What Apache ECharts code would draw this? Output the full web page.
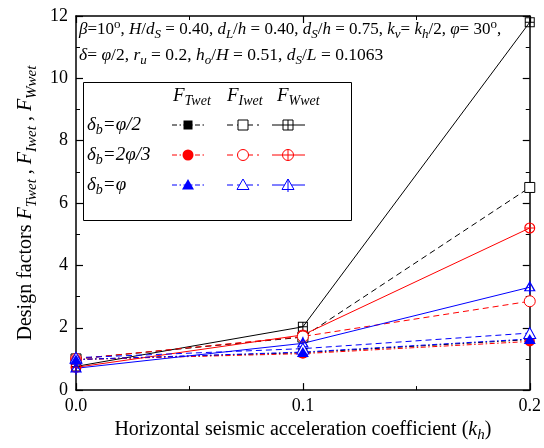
<!DOCTYPE html>
<html>
<head>
<meta charset="utf-8">
<script src="https://cdn.jsdelivr.net/npm/echarts@6/dist/echarts.min.js"></script>
<style>
  html, body { margin: 0; padding: 0; background: #fff; }
  #chart { width: 544px; height: 448px; }
</style>
</head>
<body>
<div id="chart"></div>
<script>
// horizontal seismic coefficient k_h
const kh = [0, 0.1, 0.2];

// F_Twet (dash-dot, filled markers)
const fTwetHalf = [0.98, 1.2, 1.62];
const fTwetTwoThird = [0.98, 1.17, 1.56];
const fTwetPhi = [0.98, 1.22, 1.64];

// F_Iwet (dashed, open markers)
const fIwetHalf = [1.0, 1.7, 6.5];
const fIwetTwoThird = [1.0, 1.72, 2.85];
const fIwetPhi = [1.04, 1.33, 1.83];

// F_Wwet (solid, crossed markers)
const fWwetHalf = [0.76, 2.03, 11.8];
const fWwetTwoThird = [0.73, 1.77, 5.2];
const fWwetPhi = [0.7, 1.5, 3.3];

const xTicks = [0, 0.1, 0.2];
const yTicks = [0, 2, 4, 6, 8, 10, 12];

const serif = '"Liberation Serif", "Times New Roman", serif';
const RED = '#ff0000';
const BLUE = '#0000ff';
const BLACK = '#000000';

const DASH_DOT = [5, 2.5, 1.5, 2.5];
const DASHED = [6, 4];

// rich text styles with sub / superscripts
function richSet(size) {
  const lh = size + 6;
  const base = { fontFamily: serif, fontSize: size, color: '#000', fill: '#000', lineHeight: lh, verticalAlign: 'middle' };
  return {
    n: base,
    i: Object.assign({}, base, { fontStyle: 'italic' }),
    sub: Object.assign({}, base, { fontStyle: 'italic', fontSize: Math.round(size * 0.75), lineHeight: lh - 10, verticalAlign: 'bottom' }),
    sup: Object.assign({}, base, { fontSize: Math.round(size * 0.75), lineHeight: lh - 12, verticalAlign: 'top' })
  };
}

// symbol outlines (filled white, stroked in colour) and crossed variants
const openRect = 'path://M0,0H10V10H0Z';
const openCircle = 'path://M0,5A5,5,0,1,1,10,5A5,5,0,1,1,0,5Z';
const openTri = 'path://M5,0L10,9H0Z';
const crossRect = 'path://M0,0H10V10H0Z M1,1V9H9V1Z M4.5,1H5.5V9H4.5Z M1,4.5H9V5.5H1Z';
const crossCircle = 'path://M0,5A5,5,0,1,1,10,5A5,5,0,1,1,0,5Z M1,5A4,4,0,1,0,9,5A4,4,0,1,0,1,5Z M4.5,1H5.5V9H4.5Z M1,4.5H9V5.5H1Z';
const crossTri = 'path://M5,0L10,9H0Z M5,2.2L1.8,8H8.2Z M4.5,0H5.5V11H4.5Z';

const groups = [
  { color: BLACK, t: fTwetHalf, i: fIwetHalf, w: fWwetHalf, filled: 'rect', empty: openRect, cross: crossRect, fs: 9, es: 10, cs: [10, 10] },
  { color: RED, t: fTwetTwoThird, i: fIwetTwoThird, w: fWwetTwoThird, filled: 'circle', empty: openCircle, cross: crossCircle, fs: 10, es: 11, cs: [11, 11] },
  { color: BLUE, t: fTwetPhi, i: fIwetPhi, w: fWwetPhi, filled: 'triangle', empty: openTri, cross: crossTri, fs: [12, 10], es: [12, 11], cs: [12, 13] }
];

const pairs = (ys) => kh.map((x, k) => [x, ys[k]]);

const series = [];
groups.forEach((g) => {
  series.push({
    type: 'line', data: pairs(g.w), symbol: g.cross, symbolSize: g.cs,
    lineStyle: { color: g.color, width: 1, type: 'solid' },
    itemStyle: { color: g.color, borderWidth: 0 }
  });
  series.push({
    type: 'line', data: pairs(g.i), symbol: g.empty, symbolSize: g.es,
    lineStyle: { color: g.color, width: 1, type: DASHED },
    itemStyle: { color: '#fff', borderColor: g.color, borderWidth: 1 }
  });
  series.push({
    type: 'line', data: pairs(g.t), symbol: g.filled, symbolSize: g.fs,
    lineStyle: { color: g.color, width: 1, type: DASH_DOT },
    itemStyle: { color: g.color, borderWidth: 0 }
  });
});

// legend drawn by hand: three columns of samples
const legendRowsY = [125, 155, 185];
const legendCols = [
  { x0: 172, x1: 204, cx: 188, dash: DASH_DOT, kind: 'filled', head: 'Twet', hx: 173 },
  { x0: 227, x1: 259, cx: 243, dash: DASHED, kind: 'empty', head: 'Iwet', hx: 227 },
  { x0: 272, x1: 305, cx: 288, dash: null, kind: 'cross', head: 'Wwet', hx: 277 }
];
const legendShapes = ['rect', 'circle', 'triangle'];
const legendColors = [BLACK, RED, BLUE];
const legendLabels = [
  '{i|δ}{sub|b}{i|=φ/2}',
  '{i|δ}{sub|b}{i|=2φ/3}',
  '{i|δ}{sub|b}{i|=φ}'
];

function marker(shape, kind, color, cx, cy) {
  const fill = kind === 'filled' ? color : '#fff';
  const st = { fill: fill, stroke: color, lineWidth: kind === 'filled' ? 0 : 1 };
  const out = [];
  if (shape === 'rect') {
    const r = kind === 'filled' ? 4.5 : 5;
    out.push({ type: 'rect', shape: { x: cx - r, y: cy - r, width: 2 * r, height: 2 * r }, style: st, z: 20 });
    if (kind === 'cross') {
      out.push({ type: 'line', shape: { x1: cx, y1: cy - r, x2: cx, y2: cy + r }, style: { stroke: color, lineWidth: 1 }, z: 21 });
      out.push({ type: 'line', shape: { x1: cx - r, y1: cy, x2: cx + r, y2: cy }, style: { stroke: color, lineWidth: 1 }, z: 21 });
    }
  } else if (shape === 'circle') {
    out.push({ type: 'circle', shape: { cx: cx, cy: cy, r: 5.5 }, style: st, z: 20 });
    if (kind === 'cross') {
      out.push({ type: 'line', shape: { x1: cx, y1: cy - 5.5, x2: cx, y2: cy + 5.5 }, style: { stroke: color, lineWidth: 1 }, z: 21 });
      out.push({ type: 'line', shape: { x1: cx - 5.5, y1: cy, x2: cx + 5.5, y2: cy }, style: { stroke: color, lineWidth: 1 }, z: 21 });
    }
  } else {
    out.push({ type: 'polygon', shape: { points: [[cx, cy - 6], [cx + 6, cy + 4.5], [cx - 6, cy + 4.5]] }, style: st, z: 20 });
    if (kind === 'cross') {
      out.push({ type: 'line', shape: { x1: cx, y1: cy - 6, x2: cx, y2: cy + 7 }, style: { stroke: color, lineWidth: 1 }, z: 21 });
    }
  }
  return out;
}

const graphics = [];
graphics.push({ type: 'rect', shape: { x: 83.5, y: 82.5, width: 268, height: 138 }, style: { fill: '#fff', stroke: '#000', lineWidth: 1 }, z: 10 });
legendCols.forEach((c) => {
  graphics.push({
    type: 'text', x: c.hx, y: 96, z: 11,
    style: { text: '{i|F}{sub|' + c.head + '}', rich: richSet(19), verticalAlign: 'middle' }
  });
});
legendLabels.forEach((lab, r) => {
  graphics.push({
    type: 'text', x: 87, y: legendRowsY[r], z: 11,
    style: { text: lab, rich: richSet(19), verticalAlign: 'middle' }
  });
  legendCols.forEach((c) => {
    const ls = { stroke: legendColors[r], lineWidth: 1 };
    if (c.dash) ls.lineDash = c.dash;
    graphics.push({ type: 'line', shape: { x1: c.x0, y1: legendRowsY[r], x2: c.x1, y2: legendRowsY[r] }, style: ls, z: 12 });
    marker(legendShapes[r], c.kind, legendColors[r], c.cx, legendRowsY[r]).forEach((m) => graphics.push(m));
  });
});

// parameter text at top of the plot
graphics.push({
  type: 'text', x: 79, y: 30, z: 11,
  style: {
    text: '{i|β}{n|=10}{sup|o}{n|, }{i|H}{n|/}{i|d}{sub|S}{n| = 0.40, }{i|d}{sub|L}{n|/}{i|h}{n| = 0.40, }{i|d}{sub|S}{n|/}{i|h}{n| = 0.75, }{i|k}{sub|v}{n|= }{i|k}{sub|h}{n|/2, }{i|φ}{n|= 30}{sup|o}{n|,}',
    rich: richSet(17), verticalAlign: 'middle'
  }
});
graphics.push({
  type: 'text', x: 79, y: 55, z: 11,
  style: {
    text: '{i|δ}{n|= }{i|φ}{n|/2, }{i|r}{sub|u}{n| = 0.2, }{i|h}{sub|o}{n|/}{i|H}{n| = 0.51, }{i|d}{sub|S}{n|/}{i|L}{n| = 0.1063}',
    rich: richSet(17.5), verticalAlign: 'middle'
  }
});

const axisLine = { show: true, onZero: false, lineStyle: { color: '#000', width: 1.5 } };
const tickIn = { show: true, inside: true, length: 7, lineStyle: { color: '#000', width: 1.2 } };
const minorIn = { show: true, splitNumber: 2, length: 4, lineStyle: { color: '#000', width: 1 } };

const chart = echarts.init(document.getElementById('chart'));
chart.setOption({
  animation: false,
  backgroundColor: '#fff',
  grid: { left: 76, right: 14, top: 16, bottom: 52 },
  xAxis: [
    {
      type: 'value', min: xTicks[0], max: xTicks[xTicks.length - 1], interval: 0.1,
      axisLine: axisLine, axisTick: tickIn, minorTick: minorIn, splitLine: { show: false },
      axisLabel: { fontFamily: serif, fontSize: 18, color: '#000', margin: 7, formatter: (v) => v.toFixed(1) },
      name: '{n|Horizontal seismic acceleration coefficient (}{i|k}{sub|h}{n|)}',
      nameLocation: 'middle', nameGap: 22,
      nameTextStyle: { rich: richSet(20) }
    },
    {
      type: 'value', position: 'top', min: 0, max: 0.2, interval: 0.1,
      axisLine: axisLine, axisTick: tickIn, minorTick: minorIn, splitLine: { show: false },
      axisLabel: { show: false }
    }
  ],
  yAxis: [
    {
      type: 'value', min: yTicks[0], max: yTicks[yTicks.length - 1], interval: 2,
      axisLine: axisLine, axisTick: tickIn, minorTick: minorIn, splitLine: { show: false },
      axisLabel: { fontFamily: serif, fontSize: 18, color: '#000', margin: 8 },
      name: '{n|Design factors }{i|F}{sub|Twet}{n| , }{i|F}{sub|Iwet}{n| , }{i|F}{sub|Wwet}',
      nameLocation: 'middle', nameGap: 32,
      nameTextStyle: { rich: richSet(20) }
    },
    {
      type: 'value', position: 'right', min: 0, max: 12, interval: 2,
      axisLine: axisLine, axisTick: tickIn, minorTick: minorIn, splitLine: { show: false },
      axisLabel: { show: false }
    }
  ],
  series: series,
  graphic: graphics
});
</script>
</body>
</html>
